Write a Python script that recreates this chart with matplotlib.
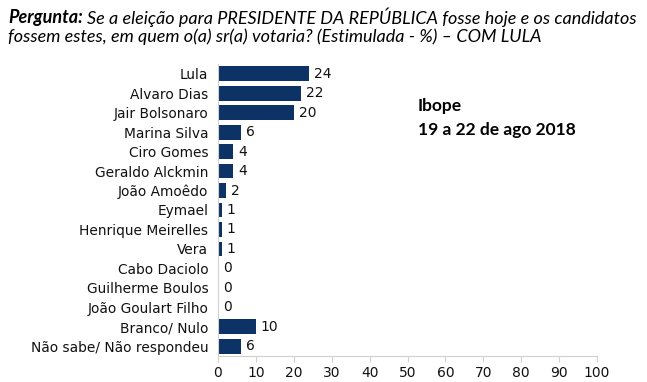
import matplotlib
matplotlib.use("Agg")
import matplotlib.pyplot as plt

categories = ["Lula", "Alvaro Dias", "Jair Bolsonaro", "Marina Silva", "Ciro Gomes",
              "Geraldo Alckmin", "João Amoêdo", "Eymael", "Henrique Meirelles", "Vera",
              "Cabo Daciolo", "Guilherme Boulos", "João Goulart Filho", "Branco/ Nulo",
              "Não sabe/ Não respondeu"]
values = [24, 22, 20, 6, 4, 4, 2, 1, 1, 1, 0, 0, 0, 10, 6]
xticks = [0, 10, 20, 30, 40, 50, 60, 70, 80, 90, 100]

plt.rcParams['font.family'] = ['DejaVu Sans']

W, H = 647, 382
fig = plt.figure(figsize=(W/100, H/100), dpi=100)
fig.patch.set_facecolor("white")

left, right = 218, 597
top, bottom = 64, 356
ax = fig.add_axes([left/W, 1-bottom/H, (right-left)/W, (bottom-top)/H])
ax.set_facecolor("white")

bar_color = "#0d3366"
y = list(range(len(categories)))
ax.barh(y, values, height=0.76, color=bar_color)
for yi, v in zip(y, values):
    ax.text(v + 1.3, yi, str(v), va="center", ha="left", fontsize=10,
            family="DejaVu Sans", color="#111111")

ax.set_ylim(len(categories) - 0.5, -0.5)
ax.set_xlim(0, 100)
ax.set_yticks(y)
ax.set_yticklabels(categories, fontsize=9.9, family="DejaVu Sans", color="#111111")
ax.set_xticks(xticks)
ax.set_xticklabels([str(t) for t in xticks], fontsize=10, family="DejaVu Sans", color="#111111")
ax.tick_params(axis="y", length=0, pad=7)
ax.tick_params(axis="x", length=4, color="#d0d0d0", pad=3)
for s in ["top", "right"]:
    ax.spines[s].set_visible(False)
ax.spines["left"].set_color("#d0d0d0")
ax.spines["bottom"].set_color("#d0d0d0")

fs_title = 13.0
t1 = fig.text(8/W, 1-17/H, "Pergunta:", fontsize=fs_title, family="Lato", weight="bold",
              style="italic", va="center", ha="left")
fig.canvas.draw()
r = fig.canvas.get_renderer()
bb = t1.get_window_extent(r)
fig.text((bb.x1 + 4)/W, 1-17/H, "Se a eleição para PRESIDENTE DA REPÚBLICA fosse hoje e os candidatos",
         fontsize=fs_title, family="Lato", style="italic", va="center", ha="left")
fig.text(8/W, 1-37/H, "fossem estes, em quem o(a) sr(a) votaria? (Estimulada - %) – COM LULA",
         fontsize=fs_title, family="Lato", style="italic", va="center", ha="left")

fig.text(418/W, 1-106/H, "Ibope", fontsize=12.5, family="Lato", weight="bold", va="center", ha="left")
fig.text(418/W, 1-130/H, "19 a 22 de ago 2018", fontsize=12.5, family="Lato", weight="bold",
         va="center", ha="left")

fig.savefig("out.png", dpi=100)
